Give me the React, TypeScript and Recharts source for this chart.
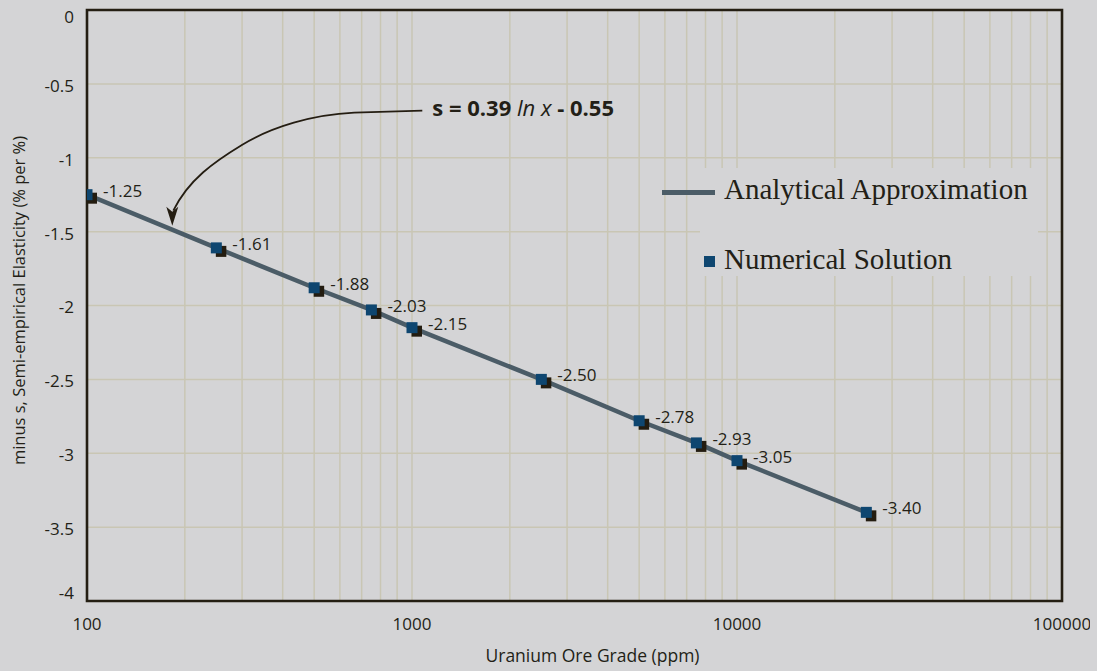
import React from "react";
import {
  CartesianGrid,
  ComposedChart,
  Legend,
  Line,
  ReferenceArea,
  ReferenceDot,
  Scatter,
  XAxis,
  YAxis,
} from "recharts";

// ore grade (ppm) and minus s
const grades = [100, 250, 500, 750, 1000, 2500, 5000, 7500, 10000, 25000];
const elasticity = [-1.25, -1.61, -1.88, -2.03, -2.15, -2.5, -2.78, -2.93, -3.05, -3.4];

const xTicks = [
  100, 200, 300, 400, 500, 600, 700, 800, 900,
  1000, 2000, 3000, 4000, 5000, 6000, 7000, 8000, 9000,
  10000, 20000, 30000, 40000, 50000, 60000, 70000, 80000, 90000,
  100000,
];
const xLabelled = [100, 1000, 10000, 100000];
const yTicks = [0, -0.5, -1, -1.5, -2, -2.5, -3, -3.5, -4];

const seriesNames = ["Analytical Approximation", "Numerical Solution"];
// where the equation's arrow points to
const arrowTip = { x: 183, y: -1.46 };

const bg = "#d4d4d6";
const ink = "#231f17";
const gridColor = "#c9c6b4";
const lineColor = "#4b5c67";
const markerColor = "#0e4670";
const sans = "'Open Sans', sans-serif";
const serif = "'Liberation Serif', serif";

const data = grades.map((x, i) => ({ x, y: elasticity[i] }));

function Marker(props: any) {
  const { cx, cy, payload } = props;
  if (cx == null || cy == null) return null;
  return (
    <g>
      <rect x={cx - 0.5} y={cy - 2} width={10.5} height={11} fill="#231c10" />
      <rect x={cx - 5.5} y={cy - 5.5} width={11} height={11} fill={markerColor} />
      <text
        x={cx + 16}
        y={cy - 4}
        dy="0.35em"
        fontFamily={sans}
        fontSize={17}
        fill={ink}
      >
        {payload.y.toFixed(2)}
      </text>
    </g>
  );
}

function YTick(props: any) {
  const { x, y, payload } = props;
  // the end labels sit a little inside the frame
  const shift = payload.value === 0 ? 7 : payload.value === -4 ? -8 : 2;
  return (
    <text
      x={x}
      y={y + shift}
      dy="0.35em"
      textAnchor="end"
      fontFamily={sans}
      fontSize={17}
      fill={ink}
    >
      {String(payload.value)}
    </text>
  );
}

function Equation(props: any) {
  const { cx, cy } = props;
  if (cx == null || cy == null) return null;
  return (
    <g transform={`translate(${cx},${cy})`}>
      <path
        d="M250,-115 L182,-113 C140,-111 100,-99 70,-81 C42,-64 16,-46 1,-15"
        fill="none"
        stroke="#241d12"
        strokeWidth={1.8}
      />
      <path d="M-6,-19 L0,-14 L6,-19 L0,0 Z" fill="#241d12" />
      <text
        x={260}
        y={-110}
        fontFamily={sans}
        fontSize={22}
        fill={ink}
        style={{ whiteSpace: "pre" }}
      >
        <tspan fontWeight="bold">s = 0.39 </tspan>
        <tspan fontStyle="italic">ln x</tspan>
        <tspan fontWeight="bold"> - 0.55</tspan>
      </text>
    </g>
  );
}

function LegendBox() {
  return (
    <div style={{ position: "relative", width: 380, height: 110 }}>
      <div
        style={{
          position: "absolute",
          left: 40,
          top: 0,
          width: 338,
          height: 108,
          background: bg,
        }}
      />
      <div
        style={{
          position: "absolute",
          left: 2,
          top: 22,
          width: 53,
          height: 5,
          background: lineColor,
        }}
      />
      <div
        style={{
          position: "absolute",
          left: 44,
          top: 88,
          width: 11,
          height: 11,
          background: markerColor,
        }}
      />
      {seriesNames.map((name, i) => (
        <div
          key={name}
          style={{
            position: "absolute",
            left: 64,
            top: i === 0 ? 5 : 75,
            fontFamily: serif,
            fontSize: 29,
            lineHeight: "32px",
            color: ink,
            whiteSpace: "nowrap",
          }}
        >
          {name}
        </div>
      ))}
    </div>
  );
}

export default function App() {
  return (
    <div
      style={{
        position: "absolute",
        left: 0,
        top: 0,
        width: 1097,
        height: 671,
        background: bg,
        overflow: "hidden",
      }}
    >
      <ComposedChart
        width={1090}
        height={671}
        data={data}
        margin={{ top: 10, right: 28, bottom: 0, left: 0 }}
      >
        <CartesianGrid stroke={gridColor} strokeWidth={1.5} />
        <XAxis
          dataKey="x"
          type="number"
          scale="log"
          domain={[100, 100000]}
          ticks={xTicks}
          interval={0}
          height={70}
          axisLine={false}
          tickLine={false}
          tickSize={0}
          tickMargin={17}
          tick={{ fontFamily: sans, fontSize: 17, fill: ink }}
          tickFormatter={(v) => (xLabelled.includes(v) ? String(v) : "")}
          allowDataOverflow
          label={{
            value: "Uranium Ore Grade (ppm)",
            position: "insideBottom",
            offset: 9,
            dx: 18,
            style: { fontFamily: sans, fontSize: 17.5, fill: ink },
          }}
        />
        <YAxis
          type="number"
          domain={[-4, 0]}
          ticks={yTicks}
          interval={0}
          width={87}
          axisLine={false}
          tickLine={false}
          tickSize={0}
          tickMargin={13}
          tick={YTick}
          label={{
            value: "minus s, Semi-empirical Elasticity (% per %)",
            angle: -90,
            position: "insideLeft",
            offset: 19,
            dy: -5,
            style: {
              fontFamily: sans,
              fontSize: 16.5,
              fill: ink,
              textAnchor: "middle",
            },
          }}
        />
        <ReferenceArea
          x1={100}
          x2={100000}
          y1={-4}
          y2={0}
          fill="none"
          fillOpacity={0}
          stroke="#241e13"
          strokeWidth={2.6}
        />
        <Legend
          layout="horizontal"
          verticalAlign="middle"
          align="center"
          wrapperStyle={{ left: 660, top: 168, width: 380, height: 110 }}
          content={() => <LegendBox />}
        />
        <ReferenceDot x={arrowTip.x} y={arrowTip.y} r={0} shape={Equation} />
        <Line
          dataKey="y"
          name={seriesNames[0]}
          type="linear"
          stroke={lineColor}
          strokeWidth={4.5}
          dot={false}
          activeDot={false}
          legendType="line"
          isAnimationActive={false}
        />
        <Scatter
          dataKey="y"
          name={seriesNames[1]}
          shape={Marker}
          legendType="square"
          isAnimationActive={false}
        />
      </ComposedChart>
    </div>
  );
}
